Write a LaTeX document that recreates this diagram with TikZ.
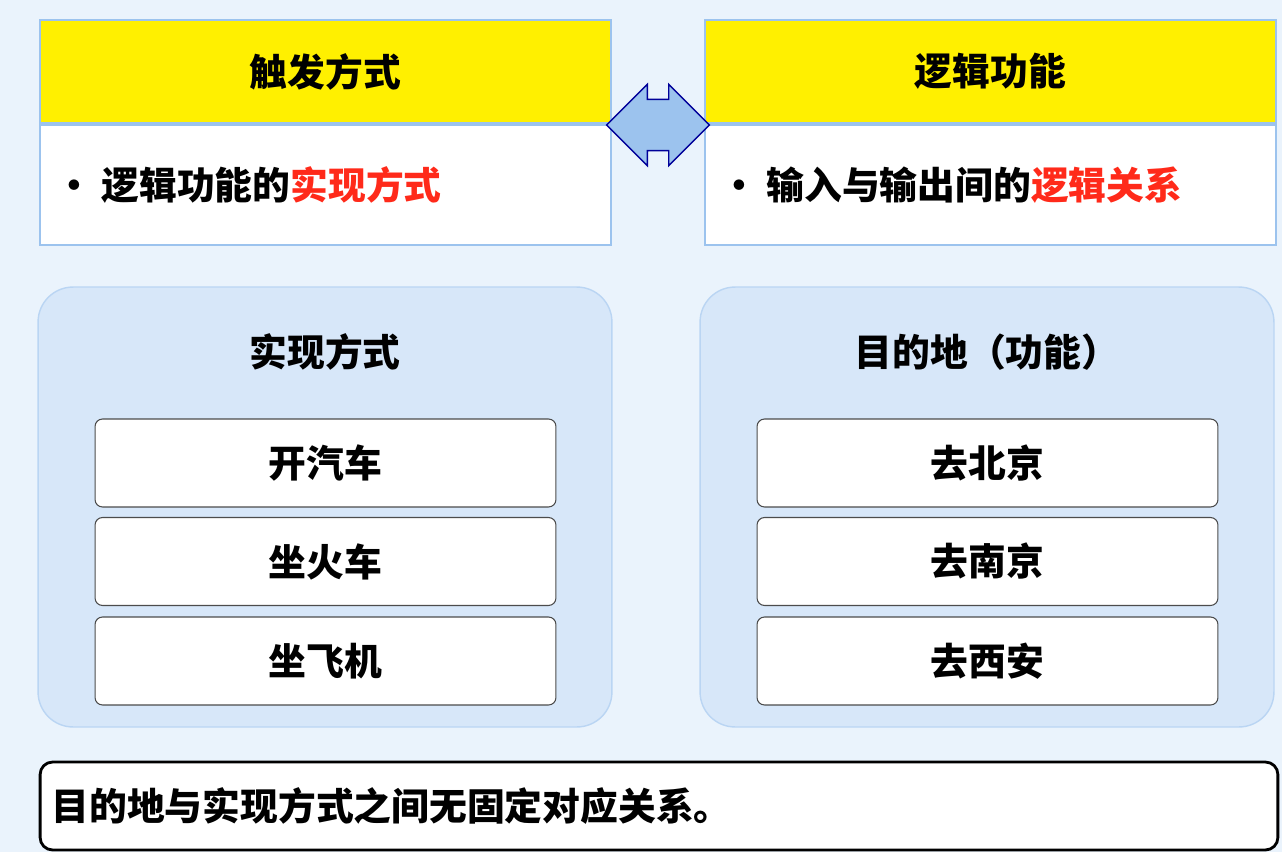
\documentclass[tikz,border=0pt]{standalone}
\usepackage{fontspec}
\setmainfont{Noto Sans CJK SC}
\usetikzlibrary{shapes, arrows, positioning, calc}
\definecolor{bgblue}{HTML}{EAF3FC}
\definecolor{panelblue}{HTML}{D7E7F9}
\definecolor{edgeblue}{HTML}{9CC3EE}
\definecolor{headyellow}{HTML}{FFF000}
\definecolor{redtext}{HTML}{FF2A1A}
\tikzset{
  txt/.style={font=\bfseries\fontsize{21.5}{25}\selectfont},
  header/.style={txt, draw=edgeblue, line width=1.2pt, fill=headyellow, minimum width=11.42cm, minimum height=2.06cm},
  body/.style={draw=edgeblue, line width=1.2pt, fill=white, minimum width=11.42cm, minimum height=2.4cm},
  panel/.style={draw=edgeblue!70, line width=0.8pt, fill=panelblue, rounded corners=0.7cm, minimum width=11.48cm, minimum height=8.8cm},
  item/.style={txt, draw=black!70, line width=0.6pt, fill=white, rounded corners=0.15cm, minimum width=9.22cm, minimum height=1.76cm}
}
\begin{document}
\begin{tikzpicture}[x=0.02cm, y=-0.02cm]
    \useasboundingbox[fill=bgblue] (0,0) rectangle (1282,852);
    % Top: trigger mode vs logic function
    \node[header] (trig) at (325.5,71.5) {触发方式};
    \node[body, below=0pt of trig] (trigbody) {};
    \node[txt, anchor=west] at ($(trigbody.west)+(0.2cm,0)$) {•\ 逻辑功能的\textcolor{redtext}{实现方式}};
    \node[header] (logic) at (990.5,71.5) {逻辑功能};
    \node[body, below=0pt of logic] (logicbody) {};
    \node[txt, anchor=west] at ($(logicbody.west)+(0.2cm,0)$) {•\ 输入与输出间的\textcolor{redtext}{逻辑关系}};
    % Double arrow
    \node[double arrow, draw=blue!60!black, fill=edgeblue, line width=0.8pt, minimum height=1.88cm, minimum width=1.6cm, double arrow head extend=0.3cm, inner sep=0.5cm] (link) at (658,125) {};
    % Lower panels
    \node[panel] (how) at (325,507) {};
    \node[txt] at (325,352) {实现方式};
    \node[item] (car) at (325.5,463) {开汽车};
    \node[item] (train) at (325.5,561.5) {坐火车};
    \node[item] (plane) at (325.5,661) {坐飞机};
    \node[panel] (dest) at (987,507) {};
    \node[txt] at (987,352) {目的地（功能）};
    \node[item] (bj) at (987.5,463) {去北京};
    \node[item] (nj) at (987.5,561.5) {去南京};
    \node[item] (xa) at (987.5,661) {去西安};
    % Conclusion
    \node[txt, draw=black, line width=1.6pt, fill=white, rounded corners=0.25cm, minimum width=24.76cm, minimum height=1.76cm, text width=24.3cm, align=left] (note) at (659,806) {目的地与实现方式之间无固定对应关系。};
\end{tikzpicture}
\end{document}
